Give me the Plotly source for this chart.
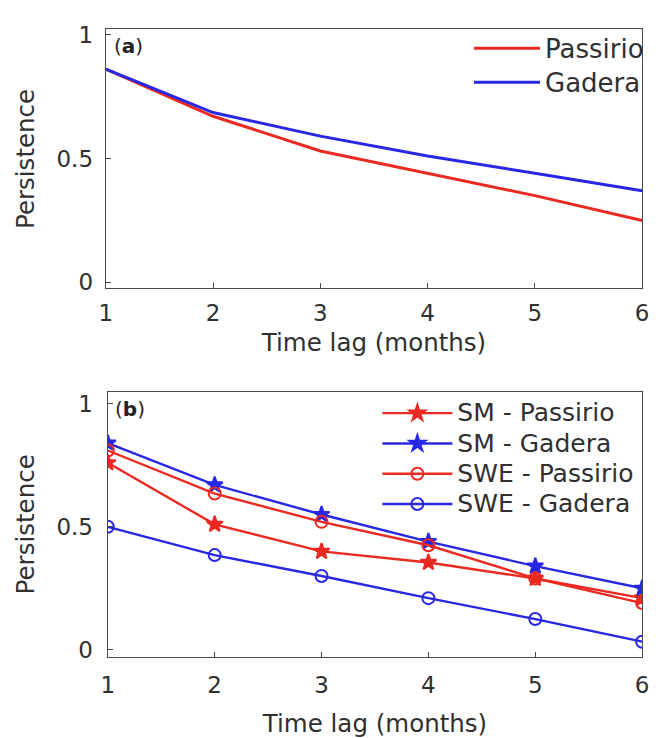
import plotly.graph_objects as go

# Time lags (months)
lags = [1, 2, 3, 4, 5, 6]
tick_vals = [1, 2, 3, 4, 5, 6]
tick_text = ["1", "2", "3", "4", "5", "6"]
y_tick_vals = [0, 0.5, 1]
y_tick_text = ["0", "0.5", "1"]

# Panel (a): discharge persistence
passirio_a = [0.86, 0.67, 0.53, 0.44, 0.35, 0.25]
gadera_a = [0.86, 0.685, 0.59, 0.51, 0.44, 0.37]

# Panel (b): soil moisture and snow water equivalent persistence
sm_passirio = [0.76, 0.51, 0.40, 0.355, 0.29, 0.21]
sm_gadera = [0.84, 0.67, 0.55, 0.44, 0.34, 0.25]
swe_passirio = [0.81, 0.635, 0.52, 0.425, 0.29, 0.19]
swe_gadera = [0.50, 0.385, 0.30, 0.21, 0.125, 0.033]

RED = "#ea2a22"
BLUE = "#2828e4"
FONT = "DejaVu Sans, Liberation Sans, Arial, sans-serif"
AXCOL = "#4a4a4a"
TXT = "#303030"


def legend_label(text, px):
    return f"<span style='font-size:{px}px'>{text}</span>"


fig = go.Figure()

for name, vals, col in [("Passirio", passirio_a, RED), ("Gadera", gadera_a, BLUE)]:
    fig.add_trace(go.Scatter(
        x=lags, y=vals, mode="lines", name=legend_label(name, 26),
        line=dict(color=col, width=3), xaxis="x", yaxis="y", legend="legend"))

series_b = [
    ("SM - Passirio", sm_passirio, RED, "star"),
    ("SM - Gadera", sm_gadera, BLUE, "star"),
    ("SWE - Passirio", swe_passirio, RED, "circle-open"),
    ("SWE - Gadera", swe_gadera, BLUE, "circle-open"),
]
for name, vals, col, sym in series_b:
    fig.add_trace(go.Scatter(
        x=lags, y=vals, mode="lines+markers", name=legend_label(name, 25),
        line=dict(color=col, width=2.4),
        marker=dict(symbol=sym, size=12, color=col, line=dict(color=col, width=2)),
        xaxis="x2", yaxis="y2", legend="legend2"))

axis_common = dict(
    showgrid=False, zeroline=False, showline=True, mirror=True,
    linecolor=AXCOL, linewidth=1.4, ticks="inside", ticklen=5,
    tickcolor=AXCOL, tickfont=dict(family=FONT, size=23, color=TXT),
    ticklabeloverflow="allow",
)
title_font = dict(family=FONT, size=24.5, color=TXT)

fig.update_layout(
    width=656, height=738,
    margin=dict(l=0, r=0, t=0, b=0),
    paper_bgcolor="white", plot_bgcolor="white",
    font=dict(family=FONT, size=20, color=TXT),
    xaxis=dict(domain=[101 / 656, 649 / 656], range=[1, 6], tickvals=tick_vals,
               ticktext=tick_text, anchor="y", ticklabelstandoff=4,
               title=dict(text="Time lag (months)", font=title_font, standoff=8),
               **axis_common),
    yaxis=dict(domain=[1 - 287 / 738, 1 - 22 / 738], range=[-0.024, 1.02],
               tickvals=y_tick_vals, ticktext=y_tick_text, anchor="x",
               ticklabelstandoff=7,
               title=dict(text="Persistence", font=title_font, standoff=14),
               **axis_common),
    xaxis2=dict(domain=[103 / 656, 649 / 656], range=[1, 6], tickvals=tick_vals,
                ticktext=tick_text, anchor="y2", ticklabelstandoff=7,
                title=dict(text="Time lag (months)", font=title_font, standoff=23),
                **axis_common),
    yaxis2=dict(domain=[1 - 664 / 738, 1 - 393 / 738], range=[-0.028, 1.048],
                tickvals=y_tick_vals, ticktext=y_tick_text, anchor="x2",
                ticklabelstandoff=9,
                title=dict(text="Persistence", font=title_font, standoff=14),
                **axis_common),
    legend=dict(x=1.0, y=0.975, xanchor="right", yanchor="top",
                bgcolor="rgba(255,255,255,0)", itemwidth=66,
                font=dict(family=FONT, size=24, color=TXT),
                tracegroupgap=0),
    legend2=dict(x=0.985, y=0.466, xanchor="right", yanchor="top",
                 bgcolor="rgba(255,255,255,0)", itemwidth=70,
                 font=dict(family=FONT, size=21, color=TXT),
                 tracegroupgap=0),
    showlegend=True,
    annotations=[
        dict(text="(<b>a</b>)", x=107 / 656, y=1 - 25 / 738, xref="paper", yref="paper",
             xanchor="left", yanchor="top", showarrow=False,
             font=dict(family=FONT, size=20, color="#222222")),
        dict(text="(<b>b</b>)", x=108 / 656, y=1 - 396 / 738, xref="paper", yref="paper",
             xanchor="left", yanchor="top", showarrow=False,
             font=dict(family=FONT, size=20, color="#222222")),
    ],
)

fig.write_html("out.html")
